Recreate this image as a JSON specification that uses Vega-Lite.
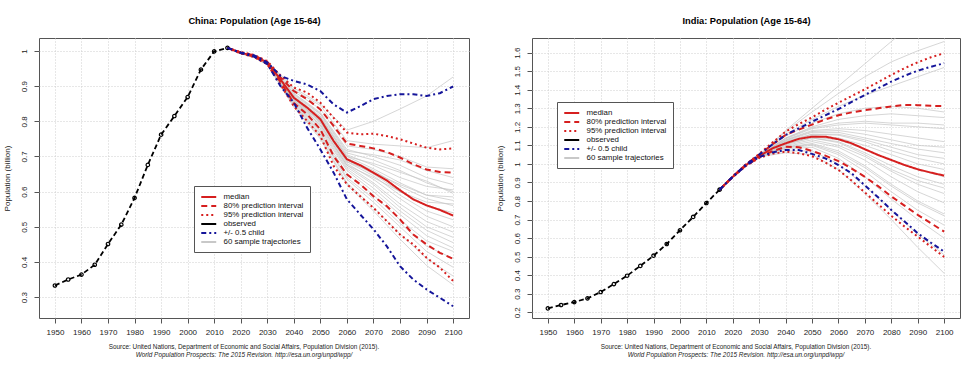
{
"$schema": "https://vega.github.io/schema/vega-lite/v6.json",
"padding": {"left": 2, "top": 16, "right": 0, "bottom": 0},
"spacing": 25,
"resolve": {"scale": {"color": "independent", "strokeDash": "independent"}, "legend": {"color": "independent", "strokeDash": "independent"}},
"config": {
  "font": "Liberation Sans",
  "view": {"stroke": "#555", "strokeWidth": 1},
  "axis": {"labelFont": "Liberation Sans", "labelFontSize": 8, "labelColor": "#222", "tickColor": "#555", "tickSize": 5, "domain": false, "gridColor": "#cfcfcf", "gridDash": [1, 2], "gridWidth": 1, "titleFont": "Liberation Sans", "titleFontWeight": "normal", "titleFontSize": 8, "titleColor": "#222", "labelOverlap": false},
  "axisY": {"labelOverlap": false, "labelAngle": 270, "labelPadding": 6, "titlePadding": 8, "minExtent": 20, "maxExtent": 20, "format": "~g"},
  "title": {"font": "Liberation Sans"}
},
"datasets": {
  "cObs": [{"x":1950,"v":0.333},{"x":1955,"v":0.350},{"x":1960,"v":0.364},{"x":1965,"v":0.392},{"x":1970,"v":0.451},{"x":1975,"v":0.506},{"x":1980,"v":0.582},{"x":1985,"v":0.676},{"x":1990,"v":0.762},{"x":1995,"v":0.815},{"x":2000,"v":0.869},{"x":2005,"v":0.947},{"x":2010,"v":0.999},{"x":2015,"v":1.009}],
  "iObs": [{"x":1950,"v":0.221},{"x":1955,"v":0.239},{"x":1960,"v":0.255},{"x":1965,"v":0.275},{"x":1970,"v":0.309},{"x":1975,"v":0.352},{"x":1980,"v":0.397},{"x":1985,"v":0.450},{"x":1990,"v":0.505},{"x":1995,"v":0.568},{"x":2000,"v":0.642},{"x":2005,"v":0.714},{"x":2010,"v":0.789},{"x":2015,"v":0.861}],
  "cRed": [
    {"s":"median","t":"m","x":2015,"v":1.009},{"s":"median","t":"m","x":2020,"v":0.995},{"s":"median","t":"m","x":2025,"v":0.986},{"s":"median","t":"m","x":2030,"v":0.967},{"s":"median","t":"m","x":2035,"v":0.919},{"s":"median","t":"m","x":2040,"v":0.867},{"s":"median","t":"m","x":2045,"v":0.839},{"s":"median","t":"m","x":2050,"v":0.806},{"s":"median","t":"m","x":2055,"v":0.744},{"s":"median","t":"m","x":2060,"v":0.692},{"s":"median","t":"m","x":2065,"v":0.675},{"s":"median","t":"m","x":2070,"v":0.654},{"s":"median","t":"m","x":2075,"v":0.632},{"s":"median","t":"m","x":2080,"v":0.604},{"s":"median","t":"m","x":2085,"v":0.578},{"s":"median","t":"m","x":2090,"v":0.561},{"s":"median","t":"m","x":2095,"v":0.548},{"s":"median","t":"m","x":2100,"v":0.532},
    {"s":"80% prediction interval","t":"u","x":2015,"v":1.009},{"s":"80% prediction interval","t":"u","x":2020,"v":0.996},{"s":"80% prediction interval","t":"u","x":2025,"v":0.988},{"s":"80% prediction interval","t":"u","x":2030,"v":0.969},{"s":"80% prediction interval","t":"u","x":2035,"v":0.925},{"s":"80% prediction interval","t":"u","x":2040,"v":0.886},{"s":"80% prediction interval","t":"u","x":2045,"v":0.863},{"s":"80% prediction interval","t":"u","x":2050,"v":0.834},{"s":"80% prediction interval","t":"u","x":2055,"v":0.787},{"s":"80% prediction interval","t":"u","x":2060,"v":0.737},{"s":"80% prediction interval","t":"u","x":2065,"v":0.730},{"s":"80% prediction interval","t":"u","x":2070,"v":0.723},{"s":"80% prediction interval","t":"u","x":2075,"v":0.713},{"s":"80% prediction interval","t":"u","x":2080,"v":0.697},{"s":"80% prediction interval","t":"u","x":2085,"v":0.678},{"s":"80% prediction interval","t":"u","x":2090,"v":0.663},{"s":"80% prediction interval","t":"u","x":2095,"v":0.656},{"s":"80% prediction interval","t":"u","x":2100,"v":0.654},
    {"s":"80% prediction interval","t":"l","x":2015,"v":1.009},{"s":"80% prediction interval","t":"l","x":2020,"v":0.994},{"s":"80% prediction interval","t":"l","x":2025,"v":0.984},{"s":"80% prediction interval","t":"l","x":2030,"v":0.964},{"s":"80% prediction interval","t":"l","x":2035,"v":0.912},{"s":"80% prediction interval","t":"l","x":2040,"v":0.852},{"s":"80% prediction interval","t":"l","x":2045,"v":0.820},{"s":"80% prediction interval","t":"l","x":2050,"v":0.777},{"s":"80% prediction interval","t":"l","x":2055,"v":0.701},{"s":"80% prediction interval","t":"l","x":2060,"v":0.649},{"s":"80% prediction interval","t":"l","x":2065,"v":0.621},{"s":"80% prediction interval","t":"l","x":2070,"v":0.587},{"s":"80% prediction interval","t":"l","x":2075,"v":0.559},{"s":"80% prediction interval","t":"l","x":2080,"v":0.521},{"s":"80% prediction interval","t":"l","x":2085,"v":0.478},{"s":"80% prediction interval","t":"l","x":2090,"v":0.450},{"s":"80% prediction interval","t":"l","x":2095,"v":0.426},{"s":"80% prediction interval","t":"l","x":2100,"v":0.409},
    {"s":"95% prediction interval","t":"u","x":2015,"v":1.009},{"s":"95% prediction interval","t":"u","x":2020,"v":0.997},{"s":"95% prediction interval","t":"u","x":2025,"v":0.989},{"s":"95% prediction interval","t":"u","x":2030,"v":0.971},{"s":"95% prediction interval","t":"u","x":2035,"v":0.930},{"s":"95% prediction interval","t":"u","x":2040,"v":0.896},{"s":"95% prediction interval","t":"u","x":2045,"v":0.882},{"s":"95% prediction interval","t":"u","x":2050,"v":0.853},{"s":"95% prediction interval","t":"u","x":2055,"v":0.810},{"s":"95% prediction interval","t":"u","x":2060,"v":0.768},{"s":"95% prediction interval","t":"u","x":2065,"v":0.763},{"s":"95% prediction interval","t":"u","x":2070,"v":0.765},{"s":"95% prediction interval","t":"u","x":2075,"v":0.758},{"s":"95% prediction interval","t":"u","x":2080,"v":0.749},{"s":"95% prediction interval","t":"u","x":2085,"v":0.737},{"s":"95% prediction interval","t":"u","x":2090,"v":0.725},{"s":"95% prediction interval","t":"u","x":2095,"v":0.720},{"s":"95% prediction interval","t":"u","x":2100,"v":0.723},
    {"s":"95% prediction interval","t":"l","x":2015,"v":1.009},{"s":"95% prediction interval","t":"l","x":2020,"v":0.993},{"s":"95% prediction interval","t":"l","x":2025,"v":0.983},{"s":"95% prediction interval","t":"l","x":2030,"v":0.962},{"s":"95% prediction interval","t":"l","x":2035,"v":0.905},{"s":"95% prediction interval","t":"l","x":2040,"v":0.843},{"s":"95% prediction interval","t":"l","x":2045,"v":0.801},{"s":"95% prediction interval","t":"l","x":2050,"v":0.758},{"s":"95% prediction interval","t":"l","x":2055,"v":0.673},{"s":"95% prediction interval","t":"l","x":2060,"v":0.621},{"s":"95% prediction interval","t":"l","x":2065,"v":0.587},{"s":"95% prediction interval","t":"l","x":2070,"v":0.554},{"s":"95% prediction interval","t":"l","x":2075,"v":0.516},{"s":"95% prediction interval","t":"l","x":2080,"v":0.478},{"s":"95% prediction interval","t":"l","x":2085,"v":0.450},{"s":"95% prediction interval","t":"l","x":2090,"v":0.412},{"s":"95% prediction interval","t":"l","x":2095,"v":0.384},{"s":"95% prediction interval","t":"l","x":2100,"v":0.346}
  ],
  "cBlue": [
    {"s":"+/- 0.5 child","t":"u","x":2015,"v":1.009},{"s":"+/- 0.5 child","t":"u","x":2020,"v":0.996},{"s":"+/- 0.5 child","t":"u","x":2025,"v":0.988},{"s":"+/- 0.5 child","t":"u","x":2030,"v":0.968},{"s":"+/- 0.5 child","t":"u","x":2035,"v":0.929},{"s":"+/- 0.5 child","t":"u","x":2040,"v":0.915},{"s":"+/- 0.5 child","t":"u","x":2045,"v":0.905},{"s":"+/- 0.5 child","t":"u","x":2050,"v":0.886},{"s":"+/- 0.5 child","t":"u","x":2055,"v":0.848},{"s":"+/- 0.5 child","t":"u","x":2060,"v":0.825},{"s":"+/- 0.5 child","t":"u","x":2065,"v":0.843},{"s":"+/- 0.5 child","t":"u","x":2070,"v":0.863},{"s":"+/- 0.5 child","t":"u","x":2075,"v":0.872},{"s":"+/- 0.5 child","t":"u","x":2080,"v":0.877},{"s":"+/- 0.5 child","t":"u","x":2085,"v":0.877},{"s":"+/- 0.5 child","t":"u","x":2090,"v":0.872},{"s":"+/- 0.5 child","t":"u","x":2095,"v":0.880},{"s":"+/- 0.5 child","t":"u","x":2100,"v":0.899},
    {"s":"+/- 0.5 child","t":"l","x":2015,"v":1.009},{"s":"+/- 0.5 child","t":"l","x":2020,"v":0.994},{"s":"+/- 0.5 child","t":"l","x":2025,"v":0.984},{"s":"+/- 0.5 child","t":"l","x":2030,"v":0.963},{"s":"+/- 0.5 child","t":"l","x":2035,"v":0.900},{"s":"+/- 0.5 child","t":"l","x":2040,"v":0.853},{"s":"+/- 0.5 child","t":"l","x":2045,"v":0.782},{"s":"+/- 0.5 child","t":"l","x":2050,"v":0.720},{"s":"+/- 0.5 child","t":"l","x":2055,"v":0.654},{"s":"+/- 0.5 child","t":"l","x":2060,"v":0.578},{"s":"+/- 0.5 child","t":"l","x":2065,"v":0.535},{"s":"+/- 0.5 child","t":"l","x":2070,"v":0.493},{"s":"+/- 0.5 child","t":"l","x":2075,"v":0.445},{"s":"+/- 0.5 child","t":"l","x":2080,"v":0.388},{"s":"+/- 0.5 child","t":"l","x":2085,"v":0.350},{"s":"+/- 0.5 child","t":"l","x":2090,"v":0.322},{"s":"+/- 0.5 child","t":"l","x":2095,"v":0.298},{"s":"+/- 0.5 child","t":"l","x":2100,"v":0.274}
  ],
  "iRed": [
    {"s":"median","t":"m","x":2015,"v":0.861},{"s":"median","t":"m","x":2020,"v":0.931},{"s":"median","t":"m","x":2025,"v":0.994},{"s":"median","t":"m","x":2030,"v":1.043},{"s":"median","t":"m","x":2035,"v":1.084},{"s":"median","t":"m","x":2040,"v":1.111},{"s":"median","t":"m","x":2045,"v":1.135},{"s":"median","t":"m","x":2050,"v":1.147},{"s":"median","t":"m","x":2055,"v":1.147},{"s":"median","t":"m","x":2060,"v":1.133},{"s":"median","t":"m","x":2065,"v":1.111},{"s":"median","t":"m","x":2070,"v":1.079},{"s":"median","t":"m","x":2075,"v":1.048},{"s":"median","t":"m","x":2080,"v":1.021},{"s":"median","t":"m","x":2085,"v":0.994},{"s":"median","t":"m","x":2090,"v":0.971},{"s":"median","t":"m","x":2095,"v":0.953},{"s":"median","t":"m","x":2100,"v":0.937},
    {"s":"80% prediction interval","t":"u","x":2015,"v":0.861},{"s":"80% prediction interval","t":"u","x":2020,"v":0.932},{"s":"80% prediction interval","t":"u","x":2025,"v":0.997},{"s":"80% prediction interval","t":"u","x":2030,"v":1.050},{"s":"80% prediction interval","t":"u","x":2035,"v":1.105},{"s":"80% prediction interval","t":"u","x":2040,"v":1.156},{"s":"80% prediction interval","t":"u","x":2045,"v":1.185},{"s":"80% prediction interval","t":"u","x":2050,"v":1.212},{"s":"80% prediction interval","t":"u","x":2055,"v":1.240},{"s":"80% prediction interval","t":"u","x":2060,"v":1.262},{"s":"80% prediction interval","t":"u","x":2065,"v":1.278},{"s":"80% prediction interval","t":"u","x":2070,"v":1.290},{"s":"80% prediction interval","t":"u","x":2075,"v":1.300},{"s":"80% prediction interval","t":"u","x":2080,"v":1.310},{"s":"80% prediction interval","t":"u","x":2085,"v":1.318},{"s":"80% prediction interval","t":"u","x":2090,"v":1.317},{"s":"80% prediction interval","t":"u","x":2095,"v":1.313},{"s":"80% prediction interval","t":"u","x":2100,"v":1.312},
    {"s":"80% prediction interval","t":"l","x":2015,"v":0.861},{"s":"80% prediction interval","t":"l","x":2020,"v":0.930},{"s":"80% prediction interval","t":"l","x":2025,"v":0.991},{"s":"80% prediction interval","t":"l","x":2030,"v":1.036},{"s":"80% prediction interval","t":"l","x":2035,"v":1.068},{"s":"80% prediction interval","t":"l","x":2040,"v":1.093},{"s":"80% prediction interval","t":"l","x":2045,"v":1.090},{"s":"80% prediction interval","t":"l","x":2050,"v":1.070},{"s":"80% prediction interval","t":"l","x":2055,"v":1.045},{"s":"80% prediction interval","t":"l","x":2060,"v":1.015},{"s":"80% prediction interval","t":"l","x":2065,"v":0.975},{"s":"80% prediction interval","t":"l","x":2070,"v":0.930},{"s":"80% prediction interval","t":"l","x":2075,"v":0.880},{"s":"80% prediction interval","t":"l","x":2080,"v":0.825},{"s":"80% prediction interval","t":"l","x":2085,"v":0.775},{"s":"80% prediction interval","t":"l","x":2090,"v":0.725},{"s":"80% prediction interval","t":"l","x":2095,"v":0.680},{"s":"80% prediction interval","t":"l","x":2100,"v":0.635},
    {"s":"95% prediction interval","t":"u","x":2015,"v":0.861},{"s":"95% prediction interval","t":"u","x":2020,"v":0.932},{"s":"95% prediction interval","t":"u","x":2025,"v":0.998},{"s":"95% prediction interval","t":"u","x":2030,"v":1.054},{"s":"95% prediction interval","t":"u","x":2035,"v":1.115},{"s":"95% prediction interval","t":"u","x":2040,"v":1.174},{"s":"95% prediction interval","t":"u","x":2045,"v":1.215},{"s":"95% prediction interval","t":"u","x":2050,"v":1.251},{"s":"95% prediction interval","t":"u","x":2055,"v":1.292},{"s":"95% prediction interval","t":"u","x":2060,"v":1.330},{"s":"95% prediction interval","t":"u","x":2065,"v":1.366},{"s":"95% prediction interval","t":"u","x":2070,"v":1.402},{"s":"95% prediction interval","t":"u","x":2075,"v":1.441},{"s":"95% prediction interval","t":"u","x":2080,"v":1.480},{"s":"95% prediction interval","t":"u","x":2085,"v":1.516},{"s":"95% prediction interval","t":"u","x":2090,"v":1.548},{"s":"95% prediction interval","t":"u","x":2095,"v":1.575},{"s":"95% prediction interval","t":"u","x":2100,"v":1.597},
    {"s":"95% prediction interval","t":"l","x":2015,"v":0.861},{"s":"95% prediction interval","t":"l","x":2020,"v":0.929},{"s":"95% prediction interval","t":"l","x":2025,"v":0.990},{"s":"95% prediction interval","t":"l","x":2030,"v":1.032},{"s":"95% prediction interval","t":"l","x":2035,"v":1.055},{"s":"95% prediction interval","t":"l","x":2040,"v":1.066},{"s":"95% prediction interval","t":"l","x":2045,"v":1.058},{"s":"95% prediction interval","t":"l","x":2050,"v":1.041},{"s":"95% prediction interval","t":"l","x":2055,"v":1.008},{"s":"95% prediction interval","t":"l","x":2060,"v":0.967},{"s":"95% prediction interval","t":"l","x":2065,"v":0.910},{"s":"95% prediction interval","t":"l","x":2070,"v":0.846},{"s":"95% prediction interval","t":"l","x":2075,"v":0.783},{"s":"95% prediction interval","t":"l","x":2080,"v":0.720},{"s":"95% prediction interval","t":"l","x":2085,"v":0.662},{"s":"95% prediction interval","t":"l","x":2090,"v":0.608},{"s":"95% prediction interval","t":"l","x":2095,"v":0.553},{"s":"95% prediction interval","t":"l","x":2100,"v":0.498}
  ],
  "iBlue": [
    {"s":"+/- 0.5 child","t":"u","x":2015,"v":0.861},{"s":"+/- 0.5 child","t":"u","x":2020,"v":0.932},{"s":"+/- 0.5 child","t":"u","x":2025,"v":0.997},{"s":"+/- 0.5 child","t":"u","x":2030,"v":1.050},{"s":"+/- 0.5 child","t":"u","x":2035,"v":1.105},{"s":"+/- 0.5 child","t":"u","x":2040,"v":1.156},{"s":"+/- 0.5 child","t":"u","x":2045,"v":1.192},{"s":"+/- 0.5 child","t":"u","x":2050,"v":1.228},{"s":"+/- 0.5 child","t":"u","x":2055,"v":1.262},{"s":"+/- 0.5 child","t":"u","x":2060,"v":1.296},{"s":"+/- 0.5 child","t":"u","x":2065,"v":1.334},{"s":"+/- 0.5 child","t":"u","x":2070,"v":1.372},{"s":"+/- 0.5 child","t":"u","x":2075,"v":1.408},{"s":"+/- 0.5 child","t":"u","x":2080,"v":1.444},{"s":"+/- 0.5 child","t":"u","x":2085,"v":1.475},{"s":"+/- 0.5 child","t":"u","x":2090,"v":1.503},{"s":"+/- 0.5 child","t":"u","x":2095,"v":1.524},{"s":"+/- 0.5 child","t":"u","x":2100,"v":1.543},
    {"s":"+/- 0.5 child","t":"l","x":2015,"v":0.861},{"s":"+/- 0.5 child","t":"l","x":2020,"v":0.930},{"s":"+/- 0.5 child","t":"l","x":2025,"v":0.991},{"s":"+/- 0.5 child","t":"l","x":2030,"v":1.037},{"s":"+/- 0.5 child","t":"l","x":2035,"v":1.062},{"s":"+/- 0.5 child","t":"l","x":2040,"v":1.075},{"s":"+/- 0.5 child","t":"l","x":2045,"v":1.075},{"s":"+/- 0.5 child","t":"l","x":2050,"v":1.054},{"s":"+/- 0.5 child","t":"l","x":2055,"v":1.030},{"s":"+/- 0.5 child","t":"l","x":2060,"v":0.994},{"s":"+/- 0.5 child","t":"l","x":2065,"v":0.949},{"s":"+/- 0.5 child","t":"l","x":2070,"v":0.884},{"s":"+/- 0.5 child","t":"l","x":2075,"v":0.820},{"s":"+/- 0.5 child","t":"l","x":2080,"v":0.752},{"s":"+/- 0.5 child","t":"l","x":2085,"v":0.690},{"s":"+/- 0.5 child","t":"l","x":2090,"v":0.626},{"s":"+/- 0.5 child","t":"l","x":2095,"v":0.575},{"s":"+/- 0.5 child","t":"l","x":2100,"v":0.527}
  ],
  "cTraj": [
    {"t":1,"x":2015,"v":1.009},{"t":1,"x":2020,"v":0.994},{"t":1,"x":2025,"v":0.987},{"t":1,"x":2030,"v":0.970},{"t":1,"x":2040,"v":0.895},{"t":1,"x":2050,"v":0.850},{"t":1,"x":2060,"v":0.775},{"t":1,"x":2070,"v":0.800},{"t":1,"x":2080,"v":0.835},{"t":1,"x":2090,"v":0.872},{"t":1,"x":2100,"v":0.926},
    {"t":2,"x":2015,"v":1.009},{"t":2,"x":2020,"v":0.993},{"t":2,"x":2025,"v":0.986},{"t":2,"x":2030,"v":0.969},{"t":2,"x":2040,"v":0.890},{"t":2,"x":2050,"v":0.845},{"t":2,"x":2060,"v":0.745},{"t":2,"x":2070,"v":0.735},{"t":2,"x":2080,"v":0.730},{"t":2,"x":2090,"v":0.725},{"t":2,"x":2100,"v":0.745},
    {"t":3,"x":2015,"v":1.009},{"t":3,"x":2020,"v":0.994},{"t":3,"x":2025,"v":0.985},{"t":3,"x":2030,"v":0.968},{"t":3,"x":2040,"v":0.885},{"t":3,"x":2050,"v":0.835},{"t":3,"x":2060,"v":0.730},{"t":3,"x":2070,"v":0.720},{"t":3,"x":2080,"v":0.700},{"t":3,"x":2090,"v":0.670},{"t":3,"x":2100,"v":0.665},
    {"t":4,"x":2015,"v":1.009},{"t":4,"x":2020,"v":0.994},{"t":4,"x":2025,"v":0.985},{"t":4,"x":2030,"v":0.967},{"t":4,"x":2040,"v":0.880},{"t":4,"x":2050,"v":0.825},{"t":4,"x":2060,"v":0.720},{"t":4,"x":2070,"v":0.700},{"t":4,"x":2080,"v":0.675},{"t":4,"x":2090,"v":0.640},{"t":4,"x":2100,"v":0.620},
    {"t":5,"x":2015,"v":1.009},{"t":5,"x":2020,"v":0.993},{"t":5,"x":2025,"v":0.984},{"t":5,"x":2030,"v":0.966},{"t":5,"x":2040,"v":0.875},{"t":5,"x":2050,"v":0.820},{"t":5,"x":2060,"v":0.710},{"t":5,"x":2070,"v":0.690},{"t":5,"x":2080,"v":0.660},{"t":5,"x":2090,"v":0.625},{"t":5,"x":2100,"v":0.600},
    {"t":6,"x":2015,"v":1.009},{"t":6,"x":2020,"v":0.994},{"t":6,"x":2025,"v":0.985},{"t":6,"x":2030,"v":0.967},{"t":6,"x":2040,"v":0.872},{"t":6,"x":2050,"v":0.815},{"t":6,"x":2060,"v":0.705},{"t":6,"x":2070,"v":0.675},{"t":6,"x":2080,"v":0.640},{"t":6,"x":2090,"v":0.615},{"t":6,"x":2100,"v":0.605},
    {"t":7,"x":2015,"v":1.009},{"t":7,"x":2020,"v":0.993},{"t":7,"x":2025,"v":0.984},{"t":7,"x":2030,"v":0.965},{"t":7,"x":2040,"v":0.870},{"t":7,"x":2050,"v":0.810},{"t":7,"x":2060,"v":0.700},{"t":7,"x":2070,"v":0.665},{"t":7,"x":2080,"v":0.625},{"t":7,"x":2090,"v":0.590},{"t":7,"x":2100,"v":0.575},
    {"t":8,"x":2015,"v":1.009},{"t":8,"x":2020,"v":0.994},{"t":8,"x":2025,"v":0.984},{"t":8,"x":2030,"v":0.966},{"t":8,"x":2040,"v":0.868},{"t":8,"x":2050,"v":0.806},{"t":8,"x":2060,"v":0.695},{"t":8,"x":2070,"v":0.660},{"t":8,"x":2080,"v":0.615},{"t":8,"x":2090,"v":0.580},{"t":8,"x":2100,"v":0.560},
    {"t":9,"x":2015,"v":1.009},{"t":9,"x":2020,"v":0.993},{"t":9,"x":2025,"v":0.985},{"t":9,"x":2030,"v":0.965},{"t":9,"x":2040,"v":0.866},{"t":9,"x":2050,"v":0.800},{"t":9,"x":2060,"v":0.690},{"t":9,"x":2070,"v":0.650},{"t":9,"x":2080,"v":0.600},{"t":9,"x":2090,"v":0.560},{"t":9,"x":2100,"v":0.540},
    {"t":10,"x":2015,"v":1.009},{"t":10,"x":2020,"v":0.994},{"t":10,"x":2025,"v":0.984},{"t":10,"x":2030,"v":0.964},{"t":10,"x":2040,"v":0.864},{"t":10,"x":2050,"v":0.798},{"t":10,"x":2060,"v":0.685},{"t":10,"x":2070,"v":0.645},{"t":10,"x":2080,"v":0.590},{"t":10,"x":2090,"v":0.545},{"t":10,"x":2100,"v":0.520},
    {"t":11,"x":2015,"v":1.009},{"t":11,"x":2020,"v":0.993},{"t":11,"x":2025,"v":0.983},{"t":11,"x":2030,"v":0.964},{"t":11,"x":2040,"v":0.862},{"t":11,"x":2050,"v":0.795},{"t":11,"x":2060,"v":0.680},{"t":11,"x":2070,"v":0.635},{"t":11,"x":2080,"v":0.580},{"t":11,"x":2090,"v":0.530},{"t":11,"x":2100,"v":0.500},
    {"t":12,"x":2015,"v":1.009},{"t":12,"x":2020,"v":0.994},{"t":12,"x":2025,"v":0.984},{"t":12,"x":2030,"v":0.965},{"t":12,"x":2040,"v":0.860},{"t":12,"x":2050,"v":0.790},{"t":12,"x":2060,"v":0.675},{"t":12,"x":2070,"v":0.625},{"t":12,"x":2080,"v":0.565},{"t":12,"x":2090,"v":0.515},{"t":12,"x":2100,"v":0.485},
    {"t":13,"x":2015,"v":1.009},{"t":13,"x":2020,"v":0.993},{"t":13,"x":2025,"v":0.983},{"t":13,"x":2030,"v":0.963},{"t":13,"x":2040,"v":0.858},{"t":13,"x":2050,"v":0.785},{"t":13,"x":2060,"v":0.670},{"t":13,"x":2070,"v":0.620},{"t":13,"x":2080,"v":0.555},{"t":13,"x":2090,"v":0.500},{"t":13,"x":2100,"v":0.470},
    {"t":14,"x":2015,"v":1.009},{"t":14,"x":2020,"v":0.993},{"t":14,"x":2025,"v":0.984},{"t":14,"x":2030,"v":0.964},{"t":14,"x":2040,"v":0.856},{"t":14,"x":2050,"v":0.780},{"t":14,"x":2060,"v":0.665},{"t":14,"x":2070,"v":0.610},{"t":14,"x":2080,"v":0.545},{"t":14,"x":2090,"v":0.490},{"t":14,"x":2100,"v":0.455},
    {"t":15,"x":2015,"v":1.009},{"t":15,"x":2020,"v":0.994},{"t":15,"x":2025,"v":0.983},{"t":15,"x":2030,"v":0.963},{"t":15,"x":2040,"v":0.854},{"t":15,"x":2050,"v":0.775},{"t":15,"x":2060,"v":0.660},{"t":15,"x":2070,"v":0.600},{"t":15,"x":2080,"v":0.535},{"t":15,"x":2090,"v":0.475},{"t":15,"x":2100,"v":0.440},
    {"t":16,"x":2015,"v":1.009},{"t":16,"x":2020,"v":0.993},{"t":16,"x":2025,"v":0.983},{"t":16,"x":2030,"v":0.962},{"t":16,"x":2040,"v":0.852},{"t":16,"x":2050,"v":0.770},{"t":16,"x":2060,"v":0.650},{"t":16,"x":2070,"v":0.590},{"t":16,"x":2080,"v":0.520},{"t":16,"x":2090,"v":0.460},{"t":16,"x":2100,"v":0.430},
    {"t":17,"x":2015,"v":1.009},{"t":17,"x":2020,"v":0.993},{"t":17,"x":2025,"v":0.982},{"t":17,"x":2030,"v":0.962},{"t":17,"x":2040,"v":0.850},{"t":17,"x":2050,"v":0.765},{"t":17,"x":2060,"v":0.640},{"t":17,"x":2070,"v":0.580},{"t":17,"x":2080,"v":0.510},{"t":17,"x":2090,"v":0.445},{"t":17,"x":2100,"v":0.410},
    {"t":18,"x":2015,"v":1.009},{"t":18,"x":2020,"v":0.993},{"t":18,"x":2025,"v":0.983},{"t":18,"x":2030,"v":0.962},{"t":18,"x":2040,"v":0.848},{"t":18,"x":2050,"v":0.760},{"t":18,"x":2060,"v":0.635},{"t":18,"x":2070,"v":0.570},{"t":18,"x":2080,"v":0.500},{"t":18,"x":2090,"v":0.430},{"t":18,"x":2100,"v":0.385},
    {"t":19,"x":2015,"v":1.009},{"t":19,"x":2020,"v":0.992},{"t":19,"x":2025,"v":0.982},{"t":19,"x":2030,"v":0.961},{"t":19,"x":2040,"v":0.845},{"t":19,"x":2050,"v":0.755},{"t":19,"x":2060,"v":0.625},{"t":19,"x":2070,"v":0.555},{"t":19,"x":2080,"v":0.480},{"t":19,"x":2090,"v":0.410},{"t":19,"x":2100,"v":0.360},
    {"t":20,"x":2015,"v":1.009},{"t":20,"x":2020,"v":0.993},{"t":20,"x":2025,"v":0.982},{"t":20,"x":2030,"v":0.961},{"t":20,"x":2040,"v":0.840},{"t":20,"x":2050,"v":0.750},{"t":20,"x":2060,"v":0.620},{"t":20,"x":2070,"v":0.545},{"t":20,"x":2080,"v":0.465},{"t":20,"x":2090,"v":0.390},{"t":20,"x":2100,"v":0.335},
    {"t":21,"x":2015,"v":1.009},{"t":21,"x":2020,"v":0.994},{"t":21,"x":2025,"v":0.985},{"t":21,"x":2030,"v":0.968},{"t":21,"x":2040,"v":0.878},{"t":21,"x":2050,"v":0.822},{"t":21,"x":2060,"v":0.715},{"t":21,"x":2070,"v":0.705},{"t":21,"x":2080,"v":0.690},{"t":21,"x":2090,"v":0.660},{"t":21,"x":2100,"v":0.640},
    {"t":22,"x":2015,"v":1.009},{"t":22,"x":2020,"v":0.993},{"t":22,"x":2025,"v":0.984},{"t":22,"x":2030,"v":0.966},{"t":22,"x":2040,"v":0.870},{"t":22,"x":2050,"v":0.812},{"t":22,"x":2060,"v":0.700},{"t":22,"x":2070,"v":0.680},{"t":22,"x":2080,"v":0.655},{"t":22,"x":2090,"v":0.630},{"t":22,"x":2100,"v":0.595},
    {"t":23,"x":2015,"v":1.009},{"t":23,"x":2020,"v":0.994},{"t":23,"x":2025,"v":0.985},{"t":23,"x":2030,"v":0.965},{"t":23,"x":2040,"v":0.865},{"t":23,"x":2050,"v":0.800},{"t":23,"x":2060,"v":0.685},{"t":23,"x":2070,"v":0.655},{"t":23,"x":2080,"v":0.620},{"t":23,"x":2090,"v":0.590},{"t":23,"x":2100,"v":0.585},
    {"t":24,"x":2015,"v":1.009},{"t":24,"x":2020,"v":0.993},{"t":24,"x":2025,"v":0.983},{"t":24,"x":2030,"v":0.964},{"t":24,"x":2040,"v":0.860},{"t":24,"x":2050,"v":0.790},{"t":24,"x":2060,"v":0.675},{"t":24,"x":2070,"v":0.640},{"t":24,"x":2080,"v":0.600},{"t":24,"x":2090,"v":0.570},{"t":24,"x":2100,"v":0.565}
  ],
  "iTraj": [
    {"t":1,"x":2015,"v":0.861},{"t":1,"x":2020,"v":0.931},{"t":1,"x":2025,"v":0.996},{"t":1,"x":2030,"v":1.048},{"t":1,"x":2040,"v":1.180},{"t":1,"x":2050,"v":1.300},{"t":1,"x":2060,"v":1.420},{"t":1,"x":2070,"v":1.540},{"t":1,"x":2080,"v":1.660},{"t":1,"x":2090,"v":1.780},{"t":1,"x":2100,"v":1.900},
    {"t":2,"x":2015,"v":0.861},{"t":2,"x":2020,"v":0.931},{"t":2,"x":2025,"v":0.996},{"t":2,"x":2030,"v":1.047},{"t":2,"x":2040,"v":1.175},{"t":2,"x":2050,"v":1.280},{"t":2,"x":2060,"v":1.380},{"t":2,"x":2070,"v":1.470},{"t":2,"x":2080,"v":1.550},{"t":2,"x":2090,"v":1.610},{"t":2,"x":2100,"v":1.660},
    {"t":3,"x":2015,"v":0.861},{"t":3,"x":2020,"v":0.931},{"t":3,"x":2025,"v":0.995},{"t":3,"x":2030,"v":1.046},{"t":3,"x":2040,"v":1.160},{"t":3,"x":2050,"v":1.240},{"t":3,"x":2060,"v":1.310},{"t":3,"x":2070,"v":1.370},{"t":3,"x":2080,"v":1.420},{"t":3,"x":2090,"v":1.470},{"t":3,"x":2100,"v":1.520},
    {"t":4,"x":2015,"v":0.861},{"t":4,"x":2020,"v":0.931},{"t":4,"x":2025,"v":0.995},{"t":4,"x":2030,"v":1.046},{"t":4,"x":2040,"v":1.150},{"t":4,"x":2050,"v":1.220},{"t":4,"x":2060,"v":1.270},{"t":4,"x":2070,"v":1.300},{"t":4,"x":2080,"v":1.310},{"t":4,"x":2090,"v":1.300},{"t":4,"x":2100,"v":1.280},
    {"t":5,"x":2015,"v":0.861},{"t":5,"x":2020,"v":0.931},{"t":5,"x":2025,"v":0.995},{"t":5,"x":2030,"v":1.045},{"t":5,"x":2040,"v":1.140},{"t":5,"x":2050,"v":1.200},{"t":5,"x":2060,"v":1.240},{"t":5,"x":2070,"v":1.260},{"t":5,"x":2080,"v":1.270},{"t":5,"x":2090,"v":1.260},{"t":5,"x":2100,"v":1.250},
    {"t":6,"x":2015,"v":0.861},{"t":6,"x":2020,"v":0.931},{"t":6,"x":2025,"v":0.994},{"t":6,"x":2030,"v":1.045},{"t":6,"x":2040,"v":1.135},{"t":6,"x":2050,"v":1.190},{"t":6,"x":2060,"v":1.210},{"t":6,"x":2070,"v":1.220},{"t":6,"x":2080,"v":1.210},{"t":6,"x":2090,"v":1.200},{"t":6,"x":2100,"v":1.190},
    {"t":7,"x":2015,"v":0.861},{"t":7,"x":2020,"v":0.931},{"t":7,"x":2025,"v":0.994},{"t":7,"x":2030,"v":1.044},{"t":7,"x":2040,"v":1.130},{"t":7,"x":2050,"v":1.180},{"t":7,"x":2060,"v":1.190},{"t":7,"x":2070,"v":1.180},{"t":7,"x":2080,"v":1.160},{"t":7,"x":2090,"v":1.140},{"t":7,"x":2100,"v":1.120},
    {"t":8,"x":2015,"v":0.861},{"t":8,"x":2020,"v":0.931},{"t":8,"x":2025,"v":0.994},{"t":8,"x":2030,"v":1.044},{"t":8,"x":2040,"v":1.125},{"t":8,"x":2050,"v":1.170},{"t":8,"x":2060,"v":1.170},{"t":8,"x":2070,"v":1.140},{"t":8,"x":2080,"v":1.110},{"t":8,"x":2090,"v":1.080},{"t":8,"x":2100,"v":1.060},
    {"t":9,"x":2015,"v":0.861},{"t":9,"x":2020,"v":0.931},{"t":9,"x":2025,"v":0.994},{"t":9,"x":2030,"v":1.043},{"t":9,"x":2040,"v":1.120},{"t":9,"x":2050,"v":1.160},{"t":9,"x":2060,"v":1.155},{"t":9,"x":2070,"v":1.120},{"t":9,"x":2080,"v":1.070},{"t":9,"x":2090,"v":1.030},{"t":9,"x":2100,"v":1.000},
    {"t":10,"x":2015,"v":0.861},{"t":10,"x":2020,"v":0.931},{"t":10,"x":2025,"v":0.994},{"t":10,"x":2030,"v":1.043},{"t":10,"x":2040,"v":1.115},{"t":10,"x":2050,"v":1.155},{"t":10,"x":2060,"v":1.140},{"t":10,"x":2070,"v":1.100},{"t":10,"x":2080,"v":1.050},{"t":10,"x":2090,"v":1.000},{"t":10,"x":2100,"v":0.970},
    {"t":11,"x":2015,"v":0.861},{"t":11,"x":2020,"v":0.931},{"t":11,"x":2025,"v":0.993},{"t":11,"x":2030,"v":1.043},{"t":11,"x":2040,"v":1.110},{"t":11,"x":2050,"v":1.145},{"t":11,"x":2060,"v":1.130},{"t":11,"x":2070,"v":1.080},{"t":11,"x":2080,"v":1.020},{"t":11,"x":2090,"v":0.970},{"t":11,"x":2100,"v":0.930},
    {"t":12,"x":2015,"v":0.861},{"t":12,"x":2020,"v":0.931},{"t":12,"x":2025,"v":0.993},{"t":12,"x":2030,"v":1.042},{"t":12,"x":2040,"v":1.105},{"t":12,"x":2050,"v":1.140},{"t":12,"x":2060,"v":1.120},{"t":12,"x":2070,"v":1.060},{"t":12,"x":2080,"v":0.990},{"t":12,"x":2090,"v":0.930},{"t":12,"x":2100,"v":0.890},
    {"t":13,"x":2015,"v":0.861},{"t":13,"x":2020,"v":0.931},{"t":13,"x":2025,"v":0.993},{"t":13,"x":2030,"v":1.042},{"t":13,"x":2040,"v":1.100},{"t":13,"x":2050,"v":1.130},{"t":13,"x":2060,"v":1.100},{"t":13,"x":2070,"v":1.040},{"t":13,"x":2080,"v":0.960},{"t":13,"x":2090,"v":0.890},{"t":13,"x":2100,"v":0.840},
    {"t":14,"x":2015,"v":0.861},{"t":14,"x":2020,"v":0.931},{"t":14,"x":2025,"v":0.993},{"t":14,"x":2030,"v":1.041},{"t":14,"x":2040,"v":1.095},{"t":14,"x":2050,"v":1.120},{"t":14,"x":2060,"v":1.090},{"t":14,"x":2070,"v":1.020},{"t":14,"x":2080,"v":0.930},{"t":14,"x":2090,"v":0.850},{"t":14,"x":2100,"v":0.790},
    {"t":15,"x":2015,"v":0.861},{"t":15,"x":2020,"v":0.931},{"t":15,"x":2025,"v":0.993},{"t":15,"x":2030,"v":1.041},{"t":15,"x":2040,"v":1.090},{"t":15,"x":2050,"v":1.110},{"t":15,"x":2060,"v":1.070},{"t":15,"x":2070,"v":0.990},{"t":15,"x":2080,"v":0.890},{"t":15,"x":2090,"v":0.800},{"t":15,"x":2100,"v":0.730},
    {"t":16,"x":2015,"v":0.861},{"t":16,"x":2020,"v":0.931},{"t":16,"x":2025,"v":0.992},{"t":16,"x":2030,"v":1.040},{"t":16,"x":2040,"v":1.085},{"t":16,"x":2050,"v":1.100},{"t":16,"x":2060,"v":1.050},{"t":16,"x":2070,"v":0.960},{"t":16,"x":2080,"v":0.850},{"t":16,"x":2090,"v":0.750},{"t":16,"x":2100,"v":0.670},
    {"t":17,"x":2015,"v":0.861},{"t":17,"x":2020,"v":0.931},{"t":17,"x":2025,"v":0.992},{"t":17,"x":2030,"v":1.040},{"t":17,"x":2040,"v":1.080},{"t":17,"x":2050,"v":1.090},{"t":17,"x":2060,"v":1.030},{"t":17,"x":2070,"v":0.930},{"t":17,"x":2080,"v":0.810},{"t":17,"x":2090,"v":0.700},{"t":17,"x":2100,"v":0.600},
    {"t":18,"x":2015,"v":0.861},{"t":18,"x":2020,"v":0.931},{"t":18,"x":2025,"v":0.992},{"t":18,"x":2030,"v":1.039},{"t":18,"x":2040,"v":1.070},{"t":18,"x":2050,"v":1.070},{"t":18,"x":2060,"v":1.000},{"t":18,"x":2070,"v":0.880},{"t":18,"x":2080,"v":0.750},{"t":18,"x":2090,"v":0.620},{"t":18,"x":2100,"v":0.510},
    {"t":19,"x":2015,"v":0.861},{"t":19,"x":2020,"v":0.931},{"t":19,"x":2025,"v":0.991},{"t":19,"x":2030,"v":1.038},{"t":19,"x":2040,"v":1.060},{"t":19,"x":2050,"v":1.050},{"t":19,"x":2060,"v":0.970},{"t":19,"x":2070,"v":0.840},{"t":19,"x":2080,"v":0.700},{"t":19,"x":2090,"v":0.550},{"t":19,"x":2100,"v":0.410},
    {"t":20,"x":2015,"v":0.861},{"t":20,"x":2020,"v":0.931},{"t":20,"x":2025,"v":0.994},{"t":20,"x":2030,"v":1.044},{"t":20,"x":2040,"v":1.128},{"t":20,"x":2050,"v":1.175},{"t":20,"x":2060,"v":1.180},{"t":20,"x":2070,"v":1.160},{"t":20,"x":2080,"v":1.130},{"t":20,"x":2090,"v":1.100},{"t":20,"x":2100,"v":1.090},
    {"t":21,"x":2015,"v":0.861},{"t":21,"x":2020,"v":0.931},{"t":21,"x":2025,"v":0.995},{"t":21,"x":2030,"v":1.045},{"t":21,"x":2040,"v":1.138},{"t":21,"x":2050,"v":1.195},{"t":21,"x":2060,"v":1.220},{"t":21,"x":2070,"v":1.230},{"t":21,"x":2080,"v":1.220},{"t":21,"x":2090,"v":1.220},{"t":21,"x":2100,"v":1.210},
    {"t":22,"x":2015,"v":0.861},{"t":22,"x":2020,"v":0.931},{"t":22,"x":2025,"v":0.994},{"t":22,"x":2030,"v":1.044},{"t":22,"x":2040,"v":1.120},{"t":22,"x":2050,"v":1.160},{"t":22,"x":2060,"v":1.160},{"t":22,"x":2070,"v":1.130},{"t":22,"x":2080,"v":1.090},{"t":22,"x":2090,"v":1.050},{"t":22,"x":2100,"v":1.030},
    {"t":23,"x":2015,"v":0.861},{"t":23,"x":2020,"v":0.931},{"t":23,"x":2025,"v":0.993},{"t":23,"x":2030,"v":1.042},{"t":23,"x":2040,"v":1.108},{"t":23,"x":2050,"v":1.140},{"t":23,"x":2060,"v":1.115},{"t":23,"x":2070,"v":1.050},{"t":23,"x":2080,"v":0.970},{"t":23,"x":2090,"v":0.910},{"t":23,"x":2100,"v":0.870},
    {"t":24,"x":2015,"v":0.861},{"t":24,"x":2020,"v":0.931},{"t":24,"x":2025,"v":0.992},{"t":24,"x":2030,"v":1.040},{"t":24,"x":2040,"v":1.090},{"t":24,"x":2050,"v":1.105},{"t":24,"x":2060,"v":1.060},{"t":24,"x":2070,"v":0.980},{"t":24,"x":2080,"v":0.880},{"t":24,"x":2090,"v":0.790},{"t":24,"x":2100,"v":0.720}
  ]
},
"hconcat": [
  {
    "width": 430, "height": 280,
    "title": {"text": "Source: United Nations, Department of Economic and Social Affairs, Population Division (2015).", "subtitle": "World Population Prospects: The 2015 Revision. http://esa.un.org/unpd/wpp/", "orient": "bottom", "anchor": "middle", "frame": "group", "offset": 8, "dx": -10, "fontSize": 6.4, "fontWeight": "normal", "color": "#222", "subtitleFontSize": 6.4, "subtitleFontStyle": "italic", "subtitleColor": "#222", "subtitlePadding": 1.5},
    "layer": [
      {"data": {"name": "cTraj"}, "mark": {"type": "line", "color": "#c4c4c4", "strokeWidth": 1, "opacity": 0.7, "clip": true},
       "encoding": {
         "x": {"field": "x", "type": "quantitative", "scale": {"domain": [1944, 2106], "nice": false, "zero": false}, "axis": {"orient": "bottom", "values": [1950,1960,1970,1980,1990,2000,2010,2020,2030,2040,2050,2060,2070,2080,2090,2100], "format": "d", "title": null, "grid": true, "labelPadding": 5, "labelOverlap": false, "labelFlush": false}},
         "y": {"field": "v", "type": "quantitative", "scale": {"domain": [0.2405, 1.037], "nice": false, "zero": false}, "axis": {"orient": "left", "values": [0.3,0.4,0.5,0.6,0.7,0.8,0.9,1], "title": "Population (billion)", "grid": true, "labelOverlap": false}},
         "detail": {"field": "t", "type": "nominal"}
       }},
      {"data": {"name": "cRed"}, "mark": {"type": "line", "strokeWidth": 2, "clip": true},
       "encoding": {
         "x": {"field": "x", "type": "quantitative", "axis": null},
         "y": {"field": "v", "type": "quantitative", "axis": {"orient": "left", "values": [0.3,0.4,0.5,0.6,0.7,0.8,0.9,1], "title": "Population (billion)", "grid": true, "labelOverlap": false}},
         "color": {"field": "s", "type": "nominal", "scale": {"domain": ["median","80% prediction interval","95% prediction interval","observed","+/- 0.5 child","60 sample trajectories"], "range": ["#d61f1f","#d61f1f","#d61f1f","#000000","#15159a","#c8c8c8"]}, "legend": {"orient": "none", "legendX": 155, "legendY": 148, "title": null, "symbolType": "M-1,0H3", "symbolSize": 56, "symbolStrokeWidth": 2, "labelFontSize": 7.9, "labelFont": "Liberation Sans", "labelColor": "#111", "labelOffset": 13.5, "padding": 6, "rowPadding": 0, "strokeColor": "#555", "fillColor": "#ffffff", "cornerRadius": 0, "labelLimit": 300}},
         "strokeDash": {"field": "s", "type": "nominal", "scale": {"domain": ["median","80% prediction interval","95% prediction interval","observed","+/- 0.5 child","60 sample trajectories"], "range": [[1,0],[6,4],[2,3],[1,0],[5,3,2,3],[1,0]]}, "legend": {"orient": "none", "legendX": 155, "legendY": 148, "title": null, "symbolType": "M-1,0H3", "symbolSize": 56, "symbolStrokeWidth": 2, "labelFontSize": 7.9, "labelFont": "Liberation Sans", "labelColor": "#111", "labelOffset": 13.5, "padding": 6, "rowPadding": 0, "strokeColor": "#555", "fillColor": "#ffffff", "cornerRadius": 0, "labelLimit": 300}},
         "detail": {"field": "t", "type": "nominal"}
       }},
      {"data": {"name": "cObs"}, "mark": {"type": "line", "color": "#000000", "strokeWidth": 1.8, "strokeDash": [5, 3]},
       "encoding": {"x": {"field": "x", "type": "quantitative", "axis": null}, "y": {"field": "v", "type": "quantitative", "axis": {"orient": "left", "values": [0.3,0.4,0.5,0.6,0.7,0.8,0.9,1], "title": "Population (billion)", "grid": true, "labelOverlap": false}}}},
      {"data": {"name": "cObs"}, "mark": {"type": "point", "shape": "circle", "filled": false, "color": "#000000", "size": 12, "strokeWidth": 1.2, "opacity": 1},
       "encoding": {
         "x": {"field": "x", "type": "quantitative", "axis": {"orient": "top", "title": "China: Population (Age 15-64)", "labels": false, "ticks": false, "grid": false, "domain": false, "titleFontWeight": "bold", "titleFontSize": 9.3, "titleColor": "#000", "titlePadding": 12.5, "minExtent": 0, "maxExtent": 0}},
         "y": {"field": "v", "type": "quantitative", "axis": {"orient": "left", "values": [0.3,0.4,0.5,0.6,0.7,0.8,0.9,1], "title": "Population (billion)", "grid": true, "labelOverlap": false}}}},
      {"data": {"name": "cBlue"}, "mark": {"type": "line", "strokeWidth": 2, "clip": true},
       "encoding": {
         "x": {"field": "x", "type": "quantitative", "axis": null},
         "y": {"field": "v", "type": "quantitative", "axis": {"orient": "left", "values": [0.3,0.4,0.5,0.6,0.7,0.8,0.9,1], "title": "Population (billion)", "grid": true, "labelOverlap": false}},
         "color": {"field": "s", "type": "nominal", "scale": {"domain": ["median","80% prediction interval","95% prediction interval","observed","+/- 0.5 child","60 sample trajectories"], "range": ["#d61f1f","#d61f1f","#d61f1f","#000000","#15159a","#c8c8c8"]}, "legend": {"orient": "none", "legendX": 155, "legendY": 148, "title": null, "symbolType": "M-1,0H3", "symbolSize": 56, "symbolStrokeWidth": 2, "labelFontSize": 7.9, "labelFont": "Liberation Sans", "labelColor": "#111", "labelOffset": 13.5, "padding": 6, "rowPadding": 0, "strokeColor": "#555", "fillColor": "#ffffff", "cornerRadius": 0, "labelLimit": 300}},
         "strokeDash": {"field": "s", "type": "nominal", "scale": {"domain": ["median","80% prediction interval","95% prediction interval","observed","+/- 0.5 child","60 sample trajectories"], "range": [[1,0],[6,4],[2,3],[1,0],[5,3,2,3],[1,0]]}, "legend": {"orient": "none", "legendX": 155, "legendY": 148, "title": null, "symbolType": "M-1,0H3", "symbolSize": 56, "symbolStrokeWidth": 2, "labelFontSize": 7.9, "labelFont": "Liberation Sans", "labelColor": "#111", "labelOffset": 13.5, "padding": 6, "rowPadding": 0, "strokeColor": "#555", "fillColor": "#ffffff", "cornerRadius": 0, "labelLimit": 300}},
         "detail": {"field": "t", "type": "nominal"}
       }}
    ]
  },
  {
    "width": 428, "height": 280,
    "title": {"text": "Source: United Nations, Department of Economic and Social Affairs, Population Division (2015).", "subtitle": "World Population Prospects: The 2015 Revision. http://esa.un.org/unpd/wpp/", "orient": "bottom", "anchor": "middle", "frame": "group", "offset": 8, "dx": -10, "fontSize": 6.4, "fontWeight": "normal", "color": "#222", "subtitleFontSize": 6.4, "subtitleFontStyle": "italic", "subtitleColor": "#222", "subtitlePadding": 1.5},
    "layer": [
      {"data": {"name": "iTraj"}, "mark": {"type": "line", "color": "#c4c4c4", "strokeWidth": 1, "opacity": 0.7, "clip": true},
       "encoding": {
         "x": {"field": "x", "type": "quantitative", "scale": {"domain": [1944, 2106], "nice": false, "zero": false}, "axis": {"orient": "bottom", "values": [1950,1960,1970,1980,1990,2000,2010,2020,2030,2040,2050,2060,2070,2080,2090,2100], "format": "d", "title": null, "grid": true, "labelPadding": 5, "labelOverlap": false, "labelFlush": false}},
         "y": {"field": "v", "type": "quantitative", "scale": {"domain": [0.169, 1.679], "nice": false, "zero": false}, "axis": {"orient": "left", "values": [0.2,0.3,0.4,0.5,0.6,0.7,0.8,0.9,1,1.1,1.2,1.3,1.4,1.5,1.6], "title": "Population (billion)", "grid": true, "labelOverlap": false}},
         "detail": {"field": "t", "type": "nominal"}
       }},
      {"data": {"name": "iRed"}, "mark": {"type": "line", "strokeWidth": 2, "clip": true},
       "encoding": {
         "x": {"field": "x", "type": "quantitative", "axis": null},
         "y": {"field": "v", "type": "quantitative", "axis": {"orient": "left", "values": [0.2,0.3,0.4,0.5,0.6,0.7,0.8,0.9,1,1.1,1.2,1.3,1.4,1.5,1.6], "title": "Population (billion)", "grid": true, "labelOverlap": false}},
         "color": {"field": "s", "type": "nominal", "scale": {"domain": ["median","80% prediction interval","95% prediction interval","observed","+/- 0.5 child","60 sample trajectories"], "range": ["#d61f1f","#d61f1f","#d61f1f","#000000","#15159a","#c8c8c8"]}, "legend": {"orient": "none", "legendX": 25, "legendY": 64, "title": null, "symbolType": "M-1,0H3", "symbolSize": 56, "symbolStrokeWidth": 2, "labelFontSize": 7.9, "labelFont": "Liberation Sans", "labelColor": "#111", "labelOffset": 13.5, "padding": 6, "rowPadding": 0, "strokeColor": "#555", "fillColor": "#ffffff", "cornerRadius": 0, "labelLimit": 300}},
         "strokeDash": {"field": "s", "type": "nominal", "scale": {"domain": ["median","80% prediction interval","95% prediction interval","observed","+/- 0.5 child","60 sample trajectories"], "range": [[1,0],[6,4],[2,3],[1,0],[5,3,2,3],[1,0]]}, "legend": {"orient": "none", "legendX": 25, "legendY": 64, "title": null, "symbolType": "M-1,0H3", "symbolSize": 56, "symbolStrokeWidth": 2, "labelFontSize": 7.9, "labelFont": "Liberation Sans", "labelColor": "#111", "labelOffset": 13.5, "padding": 6, "rowPadding": 0, "strokeColor": "#555", "fillColor": "#ffffff", "cornerRadius": 0, "labelLimit": 300}},
         "detail": {"field": "t", "type": "nominal"}
       }},
      {"data": {"name": "iObs"}, "mark": {"type": "line", "color": "#000000", "strokeWidth": 1.8, "strokeDash": [5, 3]},
       "encoding": {"x": {"field": "x", "type": "quantitative", "axis": null}, "y": {"field": "v", "type": "quantitative", "axis": {"orient": "left", "values": [0.2,0.3,0.4,0.5,0.6,0.7,0.8,0.9,1,1.1,1.2,1.3,1.4,1.5,1.6], "title": "Population (billion)", "grid": true, "labelOverlap": false}}}},
      {"data": {"name": "iObs"}, "mark": {"type": "point", "shape": "circle", "filled": false, "color": "#000000", "size": 12, "strokeWidth": 1.2, "opacity": 1},
       "encoding": {
         "x": {"field": "x", "type": "quantitative", "axis": {"orient": "top", "title": "India: Population (Age 15-64)", "labels": false, "ticks": false, "grid": false, "domain": false, "titleFontWeight": "bold", "titleFontSize": 9.3, "titleColor": "#000", "titlePadding": 12.5, "minExtent": 0, "maxExtent": 0}},
         "y": {"field": "v", "type": "quantitative", "axis": {"orient": "left", "values": [0.2,0.3,0.4,0.5,0.6,0.7,0.8,0.9,1,1.1,1.2,1.3,1.4,1.5,1.6], "title": "Population (billion)", "grid": true, "labelOverlap": false}}}},
      {"data": {"name": "iBlue"}, "mark": {"type": "line", "strokeWidth": 2, "clip": true},
       "encoding": {
         "x": {"field": "x", "type": "quantitative", "axis": null},
         "y": {"field": "v", "type": "quantitative", "axis": {"orient": "left", "values": [0.2,0.3,0.4,0.5,0.6,0.7,0.8,0.9,1,1.1,1.2,1.3,1.4,1.5,1.6], "title": "Population (billion)", "grid": true, "labelOverlap": false}},
         "color": {"field": "s", "type": "nominal", "scale": {"domain": ["median","80% prediction interval","95% prediction interval","observed","+/- 0.5 child","60 sample trajectories"], "range": ["#d61f1f","#d61f1f","#d61f1f","#000000","#15159a","#c8c8c8"]}, "legend": {"orient": "none", "legendX": 25, "legendY": 64, "title": null, "symbolType": "M-1,0H3", "symbolSize": 56, "symbolStrokeWidth": 2, "labelFontSize": 7.9, "labelFont": "Liberation Sans", "labelColor": "#111", "labelOffset": 13.5, "padding": 6, "rowPadding": 0, "strokeColor": "#555", "fillColor": "#ffffff", "cornerRadius": 0, "labelLimit": 300}},
         "strokeDash": {"field": "s", "type": "nominal", "scale": {"domain": ["median","80% prediction interval","95% prediction interval","observed","+/- 0.5 child","60 sample trajectories"], "range": [[1,0],[6,4],[2,3],[1,0],[5,3,2,3],[1,0]]}, "legend": {"orient": "none", "legendX": 25, "legendY": 64, "title": null, "symbolType": "M-1,0H3", "symbolSize": 56, "symbolStrokeWidth": 2, "labelFontSize": 7.9, "labelFont": "Liberation Sans", "labelColor": "#111", "labelOffset": 13.5, "padding": 6, "rowPadding": 0, "strokeColor": "#555", "fillColor": "#ffffff", "cornerRadius": 0, "labelLimit": 300}},
         "detail": {"field": "t", "type": "nominal"}
       }}
    ]
  }
]
}
